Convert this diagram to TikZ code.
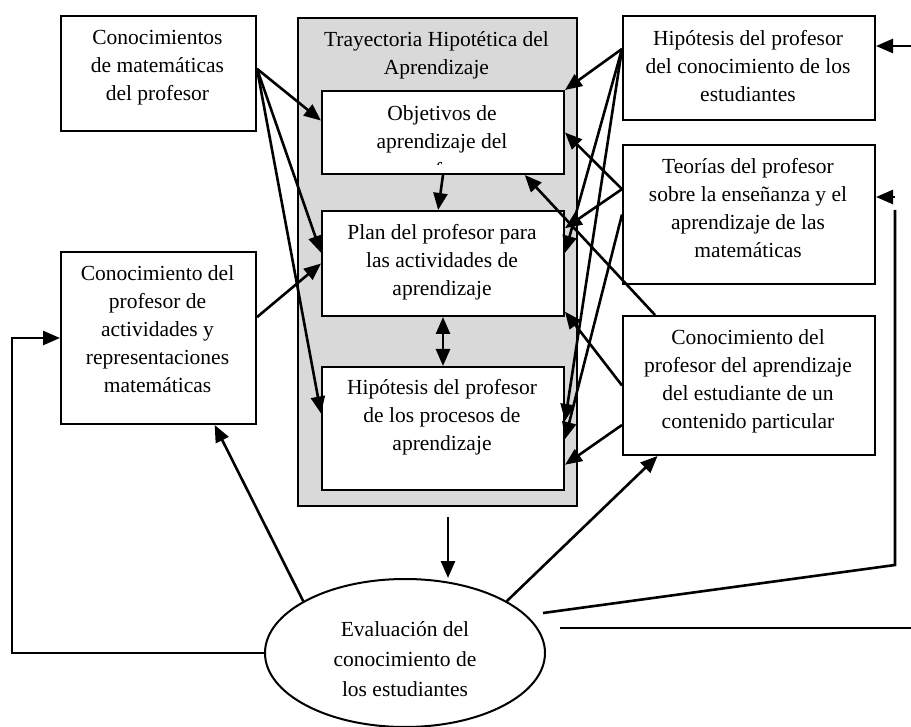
\documentclass[tikz,border=0pt]{standalone}
\usepackage{fontspec}
\setmainfont{Liberation Serif}
\usetikzlibrary{arrows.meta,calc,shapes.geometric}
\definecolor{thagray}{RGB}{217,217,217}
% centred block of lines whose baseline is the first line
\newcommand*\boxlines[1]{\parbox[t]{300pt}{\centering #1}}
\begin{document}
\begin{tikzpicture}[x=1pt,y=-1pt,
  box/.style={draw, line width=2pt, fill=white, rectangle, inner sep=0pt, anchor=north west},
  txt/.style={anchor=base, inner sep=0pt, font=\fontsize{21.5}{28}\selectfont},
  tip/.style={},
  arr/.style={line width=2.6pt, -{Triangle[length=17pt,width=14pt]}},
  dbl/.style={line width=2.6pt, {Triangle[length=17pt,width=14pt]}-{Triangle[length=17pt,width=14pt]}},
  plain/.style={line width=2.6pt}]
\useasboundingbox (0,0) rectangle (911,727);

% --- Trayectoria Hipotética del Aprendizaje (grey frame) ---
\node[box, fill=thagray, line width=2.2pt, minimum width=279pt, minimum height=488pt] (tha) at (297,17) {};
\node[txt] (thaT) at (436.5,47) {\boxlines{Trayectoria Hipotética del\\Aprendizaje}};

\node[box, minimum width=242pt, minimum height=83pt] (obj) at (321,90) {};
\begin{scope}
  % the third line runs past the inner margin of the box
  \clip (321,90) rectangle (563,165);
  \node[txt] (objT) at (442,121) {\boxlines{Objetivos de\\aprendizaje del\\[1pt]profesor}};
\end{scope}

\node[box, minimum width=242pt, minimum height=105pt] (plan) at (321,210) {};
\node[txt] (planT) at (442,240) {\boxlines{Plan del profesor para\\las actividades de\\aprendizaje}};

\node[box, minimum width=242pt, minimum height=123pt] (hp) at (321,366) {};
\node[txt] (hpT) at (442,395) {\boxlines{Hipótesis del profesor\\de los procesos de\\aprendizaje}};

% --- left column ---
\node[box, minimum width=195pt, minimum height=115pt] (ka) at (60,15) {};
\node[txt] (kaT) at (157.5,45) {\boxlines{Conocimientos\\de matemáticas\\del profesor}};

\node[box, minimum width=195pt, minimum height=172pt] (kb) at (60,251) {};
\node[txt] (kbT) at (157.5,281) {\boxlines{Conocimiento del\\profesor de\\actividades y\\representaciones\\matemáticas}};

% --- right column ---
\node[box, minimum width=252pt, minimum height=104pt] (hc) at (622,15) {};
\node[txt] (hcT) at (748,46) {\boxlines{Hipótesis del profesor\\del conocimiento de los\\estudiantes}};

\node[box, minimum width=252pt, minimum height=139pt] (teo) at (622,144) {};
\node[txt] (teoT) at (748,174) {\boxlines{Teorías del profesor\\sobre la enseñanza y el\\aprendizaje de las\\matemáticas}};

\node[box, minimum width=252pt, minimum height=139pt] (kl) at (622,315) {};
\node[txt] (klT) at (748,345) {\boxlines{Conocimiento del\\profesor del aprendizaje\\del estudiante de un\\contenido particular}};

% --- evaluation ---
\node[draw, ellipse, line width=2pt, fill=white, minimum width=280pt, minimum height=148pt, inner sep=0pt] (ev) at (405,653) {};
\node[txt, font=\fontsize{21.5}{30}\selectfont] (evT) at (405,636) {\boxlines{Evaluación del\\conocimiento de\\los estudiantes}};

% --- connectors from the left column ---
\coordinate (kaR) at ($(ka.north east)!0.46!(ka.south east)$);
\draw[arr] (kaR) -- ($(obj.north west)!0.36!(obj.south west)$);
\draw[arr] (kaR) -- ($(plan.north west)!0.40!(plan.south west)$);
\draw[arr] (kaR) -- ($(hp.north west)!0.38!(hp.south west)$);
\draw[arr] ($(kb.north east)!0.38!(kb.south east)$) -- (plan.west);

% --- connectors from the right column ---
\coordinate (hcL) at ($(hc.north west)!0.32!(hc.south west)$);
\draw[arr] (hcL) -- (obj.north east);
\draw[arr] (hcL) -- ($(plan.north east)!0.40!(plan.south east)$);
\draw[arr] (hcL) -- ($(hp.north east)!0.44!(hp.south east)$);

\coordinate (teoL) at ($(teo.north west)!0.32!(teo.south west)$);
\draw[arr] (teoL) -- (obj.east);
\draw[arr] (teoL) -- ($(plan.north east)!0.17!(plan.south east)$);
\draw[arr] (teo.west) -- ($(hp.north east)!0.585!(hp.south east)$);

\draw[arr] ($(kl.north west)!0.13!(kl.north east)$) -- ($(obj.south west)!0.835!(obj.south east)$);
\draw[arr] (kl.west) -- ($(plan.north east)!0.95!(plan.south east)$);
\draw[arr] ($(kl.north west)!0.78!(kl.south west)$) -- ($(hp.north east)!0.79!(hp.south east)$);

% --- inside the trajectory ---
\draw[arr] (obj.south) -- ($(plan.north west)!0.48!(plan.north east)$);
\draw[dbl] (plan.south) -- (hp.north);

% --- evaluation loop ---
\coordinate (thaOut) at (448,517);
\draw[arr] (thaOut) -- (thaOut |- ev.north);
\draw[arr] (ev.153) -- ($(kb.south west)!0.785!(kb.south east)$);
\draw[arr] (ev.27) -- ($(kl.south west)!0.14!(kl.south east)$);
\draw[arr] (ev.west) -- ++(-252,0) |- (kb.west);

\coordinate (gapA) at (543,613);
\coordinate (rCorner) at (895,565);
\coordinate (rTop) at (895,210);
\draw[plain] (gapA) -- (rCorner) -- (rTop);
\coordinate (rStub) at (895,197);
\draw[arr] (rStub) -- (rStub -| teo.east);

\coordinate (gapB) at (560,628);
\coordinate (edgeB) at (911,628);
\draw[plain] (gapB) -- (edgeB);
\coordinate (edgeT) at (911,46);
\draw[arr] (edgeT) -- (edgeT -| hc.east);
\end{tikzpicture}
\end{document}
